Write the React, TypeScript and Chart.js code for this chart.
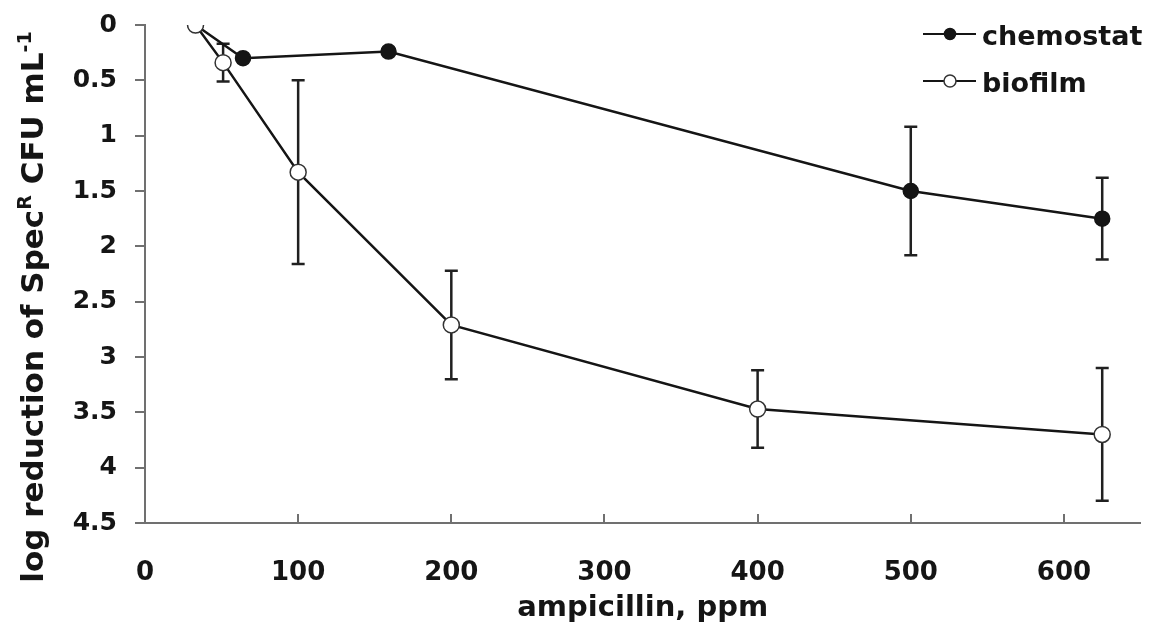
import React, { useEffect, useRef } from "react";
import { Chart, registerables } from "chart.js";

Chart.register(...registerables);

// ---- data ----
const seriesNames = ["chemostat", "biofilm"];
const chemostatX = [33, 64, 159, 500, 625];
const chemostatY = [0, 0.3, 0.24, 1.5, 1.75];
const chemostatErr = [0, 0, 0, 0.58, 0.37];
const biofilmX = [33, 51, 100, 200, 400, 625];
const biofilmY = [0, 0.34, 1.33, 2.71, 3.47, 3.7];
const biofilmErr = [0, 0.17, 0.83, 0.49, 0.35, 0.6];
const xTickValues = [0, 100, 200, 300, 400, 500, 600];
const yTickValues = [0, 0.5, 1, 1.5, 2, 2.5, 3, 3.5, 4, 4.5];
const xTitle = "ampicillin, ppm";
const yTitleParts = [
  { text: "log reduction of Spec", sup: false },
  { text: "R", sup: true },
  { text: " CFU mL", sup: false },
  { text: "-1", sup: true },
];

const FONT = "'DejaVu Sans', 'Liberation Sans', sans-serif";
const AXIS = "#707070";
const INK = "#151515";

const errorBarPlugin = {
  id: "errorBars",
  beforeDatasetsDraw(chart: any) {
    const ctx = chart.ctx;
    const yScale = chart.scales.y;
    ctx.save();
    ctx.strokeStyle = "#202020";
    ctx.lineWidth = 2.5;
    chart.data.datasets.forEach((ds: any, i: number) => {
      const meta = chart.getDatasetMeta(i);
      const errs: number[] = ds.errors || [];
      meta.data.forEach((pt: any, j: number) => {
        const e = errs[j];
        if (!e) return;
        const v = ds.data[j].y;
        const yTop = yScale.getPixelForValue(v - e);
        const yBot = yScale.getPixelForValue(v + e);
        const x = pt.x;
        const cap = 6.5;
        ctx.beginPath();
        ctx.moveTo(x, yTop);
        ctx.lineTo(x, yBot);
        ctx.moveTo(x - cap, yTop);
        ctx.lineTo(x + cap, yTop);
        ctx.moveTo(x - cap, yBot);
        ctx.lineTo(x + cap, yBot);
        ctx.stroke();
      });
    });
    ctx.restore();
  },
};

const decorPlugin = {
  id: "decor",
  afterDraw(chart: any) {
    const ctx = chart.ctx;
    const xScale = chart.scales.x;
    const area = chart.chartArea;
    ctx.save();
    // inward x tick marks
    ctx.strokeStyle = AXIS;
    ctx.lineWidth = 2;
    xTickValues.forEach((v) => {
      if (v === 0) return;
      const px = Math.round(xScale.getPixelForValue(v));
      ctx.beginPath();
      ctx.moveTo(px, area.bottom);
      ctx.lineTo(px, area.bottom - 9);
      ctx.stroke();
    });

    // y title with superscripts
    const size = 31;
    const supSize = 19;
    const mainFont = `bold ${size}px ${FONT}`;
    const supFont = `bold ${supSize}px ${FONT}`;
    let total = 0;
    yTitleParts.forEach((p) => {
      ctx.font = p.sup ? supFont : mainFont;
      total += ctx.measureText(p.text).width;
    });
    ctx.translate(43, 307);
    ctx.rotate(-Math.PI / 2);
    ctx.fillStyle = INK;
    ctx.textBaseline = "alphabetic";
    ctx.textAlign = "left";
    let cx = -total / 2;
    yTitleParts.forEach((p) => {
      ctx.font = p.sup ? supFont : mainFont;
      ctx.fillText(p.text, cx, p.sup ? -12 : 0);
      cx += ctx.measureText(p.text).width;
    });
    ctx.setTransform(1, 0, 0, 1, 0, 0);

    // legend
    const items = [
      { y: 34, fill: INK, stroke: INK, r: 5.5 },
      { y: 81, fill: "#ffffff", stroke: "#333333", r: 6 },
    ];
    items.forEach((it, i) => {
      ctx.strokeStyle = INK;
      ctx.lineWidth = 2;
      ctx.beginPath();
      ctx.moveTo(923, it.y);
      ctx.lineTo(976, it.y);
      ctx.stroke();
      ctx.beginPath();
      ctx.arc(950, it.y, it.r, 0, Math.PI * 2);
      ctx.fillStyle = it.fill;
      ctx.fill();
      ctx.lineWidth = 1.5;
      ctx.strokeStyle = it.stroke;
      ctx.stroke();
      ctx.fillStyle = INK;
      ctx.font = `bold 27px ${FONT}`;
      ctx.textBaseline = "alphabetic";
      ctx.textAlign = "left";
      ctx.fillText(seriesNames[i], 982, it.y + 11);
    });
    ctx.restore();
  },
};

export default function App() {
  const ref = useRef<HTMLCanvasElement>(null);
  useEffect(() => {
    if (!ref.current) return;
    const chart = new Chart(ref.current, {
      type: "line",
      data: {
        datasets: [
          {
            label: seriesNames[0],
            data: chemostatX.map((x, i) => ({ x, y: chemostatY[i] })),
            errors: chemostatErr,
            borderColor: INK,
            borderWidth: 2.5,
            pointRadius: 7.5,
            pointBackgroundColor: INK,
            pointBorderColor: INK,
            pointBorderWidth: 1.5,
            tension: 0,
            order: 1,
          } as any,
          {
            label: seriesNames[1],
            data: biofilmX.map((x, i) => ({ x, y: biofilmY[i] })),
            errors: biofilmErr,
            borderColor: INK,
            borderWidth: 2.5,
            pointRadius: 8,
            pointBackgroundColor: "#ffffff",
            pointBorderColor: "#333333",
            pointBorderWidth: 1.5,
            tension: 0,
            order: 0,
          } as any,
        ],
      },
      options: {
        responsive: false,
        animation: false,
        layout: { padding: { top: 25, right: 8, left: 0, bottom: 0 } },
        plugins: {
          legend: { display: false },
          tooltip: { enabled: false },
        },
        scales: {
          x: {
            type: "linear",
            min: 0,
            max: 650,
            afterBuildTicks: (s: any) => {
              s.ticks = xTickValues.map((v) => ({ value: v }));
            },
            afterFit: (s: any) => {
              s.height = 108;
              s.paddingLeft = 0;
              s.paddingRight = 0;
              s.paddingTop = 0;
              s.paddingBottom = 0;
            },
            grid: { display: false, drawTicks: false },
            border: { display: true, color: AXIS, width: 2 },
            ticks: {
              padding: 35,
              color: INK,
              font: { family: FONT, size: 26, weight: "bold" },
              maxRotation: 0,
              callback: (v: any) => String(v),
            },
            title: {
              display: true,
              text: xTitle,
              color: INK,
              font: { family: FONT, size: 29, weight: "bold" },
              padding: { top: 0, bottom: 5 },
            },
          },
          y: {
            type: "linear",
            reverse: true,
            min: 0,
            max: 4.5,
            afterBuildTicks: (s: any) => {
              s.ticks = yTickValues.map((v) => ({ value: v }));
            },
            afterFit: (s: any) => {
              s.width = 145;
              s.paddingTop = 0;
              s.paddingBottom = 0;
              s.paddingLeft = 0;
              s.paddingRight = 0;
            },
            grid: {
              drawOnChartArea: false,
              drawTicks: true,
              tickLength: 10,
              color: AXIS,
              lineWidth: 2,
            },
            border: { display: true, color: AXIS, width: 2 },
            ticks: {
              padding: 18,
              color: INK,
              font: { family: FONT, size: 25, weight: "bold" },
              callback: (v: any) => String(v),
            },
          },
        },
      } as any,
      plugins: [errorBarPlugin, decorPlugin],
    });
    return () => chart.destroy();
  }, []);
  return (
    <div style={{ position: "fixed", left: 0, top: 0, width: 1150, height: 631, background: "#fff" }}>
      <canvas ref={ref} width={1150} height={631} />
    </div>
  );
}
